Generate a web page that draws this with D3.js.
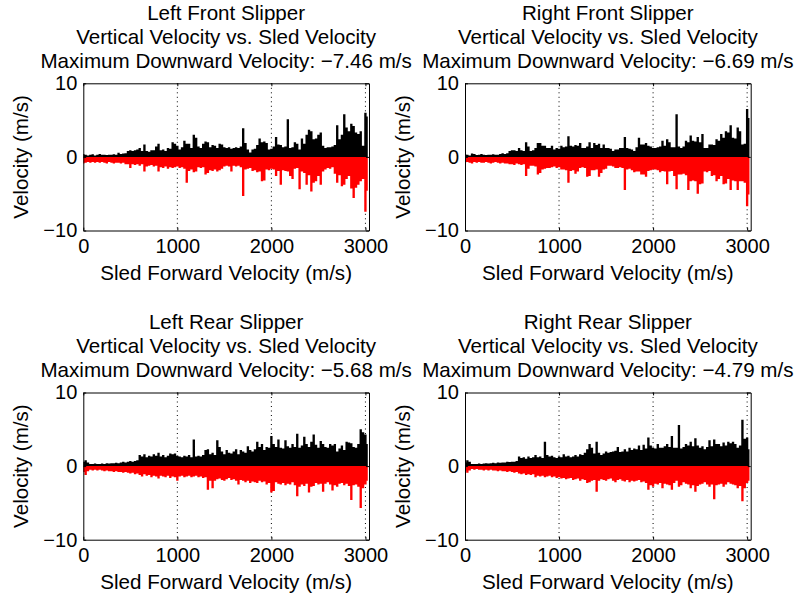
<!DOCTYPE html>
<html><head><meta charset="utf-8">
<script src="https://cdn.jsdelivr.net/npm/d3@7"></script>
<style>
body{margin:0;background:#fff}
svg{display:block}
text{font-family:"Liberation Sans",Arial,Helvetica,sans-serif;fill:#000}
</style>
</head><body>
<svg id="chart" width="800" height="599"></svg>
<script>
// ---------- data ----------
const sledVelocity = d3.range(0, 3026, 25); // m/s, sample grid (122 samples)
const xTicks = [0, 1000, 2000, 3000];
const yTicks = [-10, 0, 10];
const panelNames = ["Left Front Slipper", "Right Front Slipper", "Left Rear Slipper", "Right Rear Slipper"];
const subtitle = "Vertical Velocity vs. Sled Velocity";
const xLabel = "Sled Forward Velocity (m/s)";
const yLabel = "Velocity (m/s)";

const leftFrontUp = [
0.4,0.3,0.2,0.3,0.35,0.2,0.3,0.4,0.3,0.3,
0.25,0.3,0.3,0.35,0.3,0.55,0.4,0.45,0.5,0.8,
0.9,0.8,0.9,1.0,1.2,0.8,1.7,0.8,0.7,0.9,
0.9,1.4,1.8,0.9,1.0,0.8,1.2,1.1,2.0,1.8,
1.5,1.0,1.3,2.2,1.8,1.8,1.2,3.0,2.6,1.4,
1.2,1.8,2.1,2.0,1.3,1.6,1.5,1.2,1.8,1.7,
1.3,1.2,1.3,1.1,1.2,1.3,1.2,1.4,3.9,1.9,
1.0,0.6,1.0,1.1,1.6,2.5,2.0,2.1,1.9,1.0,
1.1,1.4,2.7,1.7,1.6,1.3,1.4,5.1,1.2,1.3,
2.0,1.8,1.0,2.5,1.8,3.0,3.7,3.5,2.4,2.5,
3.0,3.3,1.5,1.2,1.3,1.3,1.4,1.6,4.3,2.4,
3.0,5.8,4.0,3.5,4.5,4.2,3.3,3.1,3.5,1.5,
6.0,5.5];
const leftFrontDown = [
-0.9,-0.8,-0.7,-0.8,-0.7,-0.8,-0.7,-0.8,-0.7,-0.8,
-0.9,-0.7,-0.8,-0.9,-0.8,-0.8,-0.9,-0.8,-1.0,-1.0,
-1.5,-1.0,-1.1,-1.0,-1.2,-1.0,-2.0,-1.3,-1.2,-1.1,
-1.3,-1.2,-2.0,-1.4,-1.5,-1.3,-1.6,-1.4,-1.5,-1.4,
-1.3,-1.5,-1.4,-1.6,-3.5,-1.9,-1.7,-2.1,-2.0,-1.4,
-1.5,-1.4,-2.4,-2.2,-1.8,-1.9,-1.7,-2.0,-1.8,-1.6,
-1.3,-1.2,-1.3,-2.0,-1.2,-1.3,-1.2,-1.4,-5.3,-1.7,
-1.6,-1.5,-1.9,-1.8,-2.1,-2.0,-3.3,-3.2,-1.7,-1.8,
-1.6,-1.7,-2.6,-1.9,-3.8,-1.8,-1.9,-2.0,-2.6,-3.0,
-1.6,-1.5,-4.4,-2.0,-2.2,-3.8,-2.5,-4.7,-3.5,-3.3,
-2.6,-3.8,-2.0,-1.7,-1.5,-1.6,-1.4,-2.3,-3.5,-2.5,
-4.0,-3.8,-3.0,-2.6,-4.3,-5.6,-4.2,-3.8,-3.3,-3.0,
-7.46,-4.6];

const rightFrontUp = [
0.4,0.3,0.2,0.45,0.4,0.25,0.3,0.4,0.3,0.25,
0.3,0.3,0.35,0.3,0.3,0.4,0.5,0.4,0.5,0.8,
0.9,0.9,0.8,1.2,0.9,0.8,2.0,1.4,0.8,0.9,
1.2,1.9,1.9,1.5,1.5,1.2,1.2,1.5,1.0,1.2,
1.1,1.5,1.3,1.4,2.8,1.5,1.4,1.6,1.5,1.9,
1.2,1.2,1.4,2.0,1.2,1.9,1.6,1.8,1.2,1.7,
1.2,1.2,1.1,0.8,1.0,1.0,1.2,1.2,2.7,1.2,
1.1,1.0,0.8,1.3,2.6,1.7,1.7,1.9,1.5,1.4,
1.2,1.2,1.3,1.4,2.2,1.5,2.4,2.0,1.3,1.3,
5.8,1.4,1.2,1.4,2.2,2.0,2.9,2.2,2.1,2.7,
2.0,3.1,1.2,1.2,1.7,1.7,1.6,2.4,2.2,3.1,
2.6,3.5,3.3,4.3,2.6,2.5,4.0,3.5,1.7,1.8,
6.5,5.3];
const rightFrontDown = [
-0.8,-0.7,-0.8,-0.9,-0.7,-0.8,-0.7,-0.8,-0.8,-0.7,
-0.8,-0.9,-0.8,-0.7,-0.8,-0.9,-0.8,-0.9,-0.9,-1.0,
-1.0,-1.1,-0.9,-1.0,-1.1,-1.0,-2.6,-1.6,-1.2,-1.2,
-1.3,-2.4,-2.2,-1.7,-1.6,-1.5,-1.5,-1.4,-1.3,-1.5,
-1.4,-1.7,-1.7,-1.8,-3.5,-1.9,-1.8,-2.3,-2.0,-1.5,
-1.4,-1.5,-2.7,-2.6,-1.8,-1.8,-1.7,-2.7,-2.2,-1.7,
-1.6,-1.2,-1.2,-1.3,-1.5,-1.5,-1.4,-1.5,-4.5,-1.7,
-1.6,-1.8,-2.1,-2.0,-2.0,-2.4,-2.4,-2.7,-1.9,-1.8,
-1.7,-1.7,-1.8,-2.1,-1.9,-2.0,-3.7,-2.0,-1.9,-2.6,
-4.4,-2.4,-2.4,-2.3,-2.5,-4.5,-3.3,-3.2,-3.3,-5.0,
-3.7,-3.6,-2.0,-2.1,-1.9,-2.6,-2.5,-3.3,-3.0,-2.6,
-3.7,-3.6,-3.0,-4.5,-3.2,-3.3,-4.5,-3.3,-3.3,-3.5,
-6.69,-5.1];

const leftRearUp = [
0.6,0.8,0.5,0.3,0.3,0.35,0.3,0.3,0.35,0.3,
0.4,0.35,0.4,0.4,0.45,0.4,0.5,0.6,0.5,0.6,
0.7,0.6,0.7,0.8,1.5,1.3,1.6,1.2,1.4,1.3,
1.6,1.4,1.8,1.3,1.5,1.2,1.4,1.7,1.6,1.7,
1.4,1.3,1.2,1.4,1.3,1.5,1.2,3.6,1.3,1.4,
1.3,1.5,2.2,2.3,1.6,1.8,1.5,3.5,2.6,2.0,
1.6,2.2,1.8,1.7,2.0,2.3,1.6,2.2,2.0,1.8,
2.7,2.2,2.0,2.3,3.3,2.6,3.0,2.2,2.6,2.5,
4.1,3.0,2.6,3.6,2.5,2.4,3.5,2.7,2.5,3.0,
2.6,4.4,2.5,2.8,4.0,3.0,2.6,3.3,4.3,2.9,
2.5,3.4,3.0,2.6,2.5,3.0,2.8,3.0,2.0,2.4,
2.8,2.2,3.3,3.2,3.1,2.6,2.5,3.0,5.0,4.6,
4.3,3.0];
const leftRearDown = [
-0.8,-1.2,-0.7,-0.5,-0.6,-0.5,-0.6,-0.5,-0.6,-0.7,
-0.6,-0.7,-0.7,-0.8,-0.7,-0.8,-0.8,-0.9,-0.8,-0.9,
-1.0,-0.9,-1.1,-1.0,-1.2,-1.4,-1.1,-1.3,-1.2,-1.5,
-1.3,-1.4,-1.7,-1.3,-1.4,-1.5,-1.3,-1.6,-1.4,-1.5,
-2.0,-1.4,-1.3,-1.5,-1.4,-1.3,-1.5,-1.4,-1.3,-1.5,
-1.4,-1.6,-1.5,-3.2,-2.0,-3.0,-2.0,-1.8,-1.7,-1.9,
-2.0,-1.8,-1.6,-1.9,-1.8,-2.0,-2.5,-1.9,-2.0,-2.2,
-2.0,-2.3,-2.1,-2.2,-2.3,-2.0,-2.2,-2.1,-2.5,-2.3,
-3.6,-3.4,-2.2,-2.4,-2.5,-2.3,-2.6,-2.4,-2.5,-2.2,
-2.6,-4.1,-2.8,-2.5,-2.7,-2.4,-3.6,-2.8,-2.7,-2.3,
-2.5,-2.4,-3.5,-2.4,-2.2,-2.5,-3.3,-2.6,-2.8,-2.4,
-2.3,-2.6,-2.4,-2.7,-4.6,-2.6,-2.5,-2.8,-5.68,-3.0,
-2.5,-2.0];

const rightRearUp = [
0.5,0.8,0.6,0.3,0.3,0.3,0.35,0.3,0.35,0.4,
0.35,0.4,0.45,0.4,0.5,0.45,0.5,0.5,0.6,0.55,
0.6,0.6,0.7,1.3,1.1,1.2,1.0,1.3,1.1,1.2,
1.5,1.2,1.3,1.1,3.3,1.5,1.3,1.4,1.2,1.1,
1.3,1.2,1.6,1.3,1.4,1.2,1.3,1.5,1.3,1.6,
1.5,1.8,2.3,3.0,2.5,1.7,3.3,1.8,1.5,1.7,
2.0,1.8,1.9,2.0,2.1,2.6,1.9,2.0,2.3,2.0,
2.5,2.2,2.4,2.3,2.8,2.2,2.9,2.4,3.9,2.8,
2.5,2.4,3.0,2.5,2.5,2.7,3.0,2.6,4.1,2.5,
2.5,5.6,2.4,2.6,3.0,2.8,3.3,2.7,3.8,2.8,
2.5,2.7,2.3,2.6,3.5,2.7,3.6,3.0,3.0,2.7,
3.2,2.8,3.3,3.1,3.3,3.0,2.5,2.8,6.3,3.7,
3.9,2.3];
const rightRearDown = [
-0.6,-0.9,-0.6,-0.4,-0.5,-0.4,-0.5,-0.5,-0.6,-0.5,
-0.6,-0.5,-0.6,-0.6,-0.7,-0.6,-0.7,-0.7,-0.8,-0.7,
-0.8,-0.9,-0.8,-1.0,-1.1,-1.0,-1.2,-1.1,-1.2,-1.1,
-1.5,-1.3,-1.4,-1.3,-1.5,-1.4,-1.3,-1.5,-1.4,-1.6,
-1.5,-1.7,-1.6,-1.8,-1.7,-1.6,-1.9,-1.8,-1.7,-2.0,
-1.8,-1.9,-2.3,-2.2,-2.0,-1.9,-3.5,-2.0,-1.8,-1.9,
-2.0,-1.8,-1.7,-2.0,-2.2,-1.9,-1.8,-2.0,-2.1,-1.9,
-2.2,-2.0,-2.1,-2.0,-1.9,-2.2,-2.1,-2.3,-3.2,-2.6,
-2.8,-2.4,-2.5,-2.3,-3.0,-2.4,-2.5,-2.6,-3.2,-2.3,
-2.0,-2.8,-2.6,-2.2,-2.4,-2.5,-3.0,-2.6,-3.5,-2.7,
-2.5,-2.4,-2.2,-2.5,-2.8,-2.5,-4.5,-2.6,-2.5,-2.4,
-2.8,-2.5,-2.2,-2.4,-2.5,-2.6,-3.0,-2.7,-4.79,-3.0,
-2.3,-2.0];

const upSeries = [leftFrontUp, rightFrontUp, leftRearUp, rightRearUp];
const downSeries = [leftFrontDown, rightFrontDown, leftRearDown, rightRearDown];

// ---------- layout ----------
const svg = d3.select("#chart");
const W = 285.7, H = 147.2;
const origins = [[83.3, 83.3], [465, 83.3], [83.3, 392.5], [465, 392.5]];
const fontSize = 20.6;
const tickFont = 20;
const fmt = d3.format(".2f");
const family = '"Liberation Sans",Arial,Helvetica,sans-serif';

origins.forEach(([x0, y0], i) => {
  const x = d3.scaleLinear().domain([0, 3038]).range([x0, x0 + W]);
  const y = d3.scaleLinear().domain([-10, 10]).range([y0 + H, y0]);
  const rows = sledVelocity.map((v, k) => ({v, up: upSeries[i][k], down: downSeries[i][k]}))
                           .filter(d => d.up !== undefined && d.down !== undefined);
  const g = svg.append("g");

  // grid (behind data)
  g.selectAll("line.grid").data(xTicks.filter(t => t > 0)).join("line")
    .attr("x1", d => x(d)).attr("x2", d => x(d))
    .attr("y1", y0).attr("y2", y0 + H)
    .attr("stroke", "#000").attr("stroke-width", 1)
    .attr("stroke-dasharray", "1,3.5");

  // data
  g.append("path").datum(rows)
    .attr("fill", "#000")
    .attr("d", d3.area().x(d => x(d.v)).y0(y(0)).y1(d => y(d.up)).curve(d3.curveStep));
  g.append("path").datum(rows)
    .attr("fill", "#ff0000")
    .attr("d", d3.area().x(d => x(d.v)).y0(y(0)).y1(d => y(d.down)).curve(d3.curveStep));

  // axes
  const tk = 2.9;
  const axB = g.append("g").attr("transform", `translate(0,${y0 + H})`)
    .call(d3.axisBottom(x).tickValues(xTicks).tickFormat(d3.format("d")).tickSizeInner(-tk).tickSizeOuter(0).tickPadding(8));
  const axT = g.append("g").attr("transform", `translate(0,${y0})`)
    .call(d3.axisTop(x).tickValues(xTicks).tickSizeInner(-tk).tickSizeOuter(0).tickFormat(""));
  const axL = g.append("g").attr("transform", `translate(${x0},0)`)
    .call(d3.axisLeft(y).tickValues(yTicks).tickSizeInner(-tk).tickSizeOuter(0).tickPadding(6));
  const axR = g.append("g").attr("transform", `translate(${x0 + W},0)`)
    .call(d3.axisRight(y).tickValues(yTicks).tickSizeInner(-tk).tickSizeOuter(0).tickFormat(""));
  [axB, axT, axL, axR].forEach(a => {
    a.selectAll("path,line").attr("stroke", "#000").attr("stroke-width", 1);
    a.selectAll("text").style("font-size", tickFont + "px").style("font-family", family);
  });

  // axis labels
  g.append("text").attr("x", x0 + W / 2).attr("y", y0 + H + 49.5)
    .attr("text-anchor", "middle").style("font-size", fontSize + "px").text(xLabel);
  g.append("text").attr("transform", `translate(${x0 - 55},${y0 + H / 2}) rotate(-90)`)
    .attr("text-anchor", "middle").style("font-size", fontSize + "px").text(yLabel);

  // titles
  const minV = d3.min(downSeries[i]);
  const lines = [panelNames[i], subtitle, `Maximum Downward Velocity: ${fmt(minV)} m/s`];
  lines.forEach((t, j) => {
    g.append("text").attr("x", x0 + W / 2).attr("y", y0 - 63.3 + j * 23.8)
      .attr("text-anchor", "middle").style("font-size", fontSize + "px").text(t);
  });
});
</script>
</body></html>
